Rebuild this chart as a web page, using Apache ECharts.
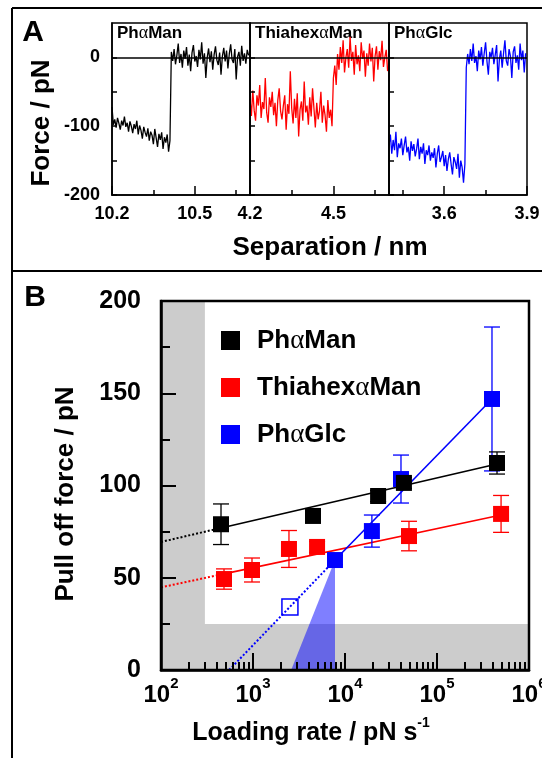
<!DOCTYPE html>
<html>
<head>
<meta charset="utf-8">
<script src="https://cdn.jsdelivr.net/npm/echarts@6/dist/echarts.min.js"></script>
<style>
html, body { margin: 0; padding: 0; background: #fff; }
#chart { width: 542px; height: 758px; }
</style>
</head>
<body>
<div id="chart"></div>
<script>
const FONT = 'Arial, "Liberation Sans", Helvetica, sans-serif';
const GREEK = '"Liberation Serif", "DejaVu Serif", serif';

// ---------- Panel A: force vs. separation traces ----------
const traceNames = ['PhαMan', 'ThiahexαMan', 'PhαGlc'];
const traceColors = ['#000000', '#ff0000', '#0000ff'];
const traceStart = [10.2, 4.2, 3.4];          // separation of first sample (nm)
const traceStep = 0.005;                      // sample spacing (nm)
const sepRanges = [[10.2, 10.7], [4.2, 4.7], [3.4, 3.9]];
const sepLabels = [[10.2, 10.5], [4.2, 4.5], [3.6, 3.9]];
const sepMinorTicks = [[10.35, 10.65], [4.35, 4.65], [3.45, 3.75]];
const forceTicks = [-200, -150, -100, -50, 0];
const forceLabels = [-200, -100, 0];

const phManTrace = [
  -72, -98, -90, -102, -88, -96, -105, -92, -99, -86,
  -101, -95, -108, -93, -100, -110, -97, -104, -92, -112,
  -99, -106, -118, -101, -109, -115, -103, -121, -108, -113,
  -126, -104, -117, -130, -111, -120, -109, -133, -116, -124,
  -112, -137, -121,
  8, -5, 12, -10, 3, 20, -8, 5, -15, 10,
  -2, 15, -12, 4, -20, 7, 18, -6, 2, -14,
  11, -3, 22, -9, 6, -30, 0, 13, -7, 9,
  -18, 4, 16, -4, -11, 7, -25, 2, 14, -6,
  10, -16, 5, 19, -3, -8, 12, -32, 1, 8,
  -12, 17, -5, 6, -9, 11, 3
];
const thiaTrace = [
  -60, -85, -48, -77, -92, -55, -70, -40, -88, -65,
  -75, -30, -80, -95, -58, -72, -50, -84, -66, -100,
  -62, -45, -78, -90, -70, -55, -105, -68, -82, -20,
  -74, -96, -60, -88, -52, -115, -76, -64, -92, -35,
  -80, -70, -98, -58, -86, -45, -74, -102, -66, -90,
  -78, -50, -95, -70, -84, -108, -62, -88, -76, -100,
  -30, -12, -40, 5, -18, 15, -8, 25, -22, 0,
  12, -15, 30, -5, 8, -25, 18, -10, 3, -20,
  22, -2, 10, -28, 6, -12, 20, -6, 14, -35,
  2, 16, -18, 9, -4, 24, -14, 0, 11, -20
];
const phGlcTrace = [
  -128, -112, -140, -120, -135, -108, -145, -125, -132, -118,
  -142, -128, -115, -138, -130, -150, -122, -136, -126, -144,
  -133, -118, -148, -130, -140, -125, -155, -135, -142, -128,
  -150, -138, -146, -132, -160, -140, -128, -152, -145, -136,
  -158, -142, -165, -148, -138, -155, -170, -145, -152, -162,
  -140, -175, -150, -160, -182, -155,
  -15, 5, -10, 12, -5, 20, -8, 2, -20, 10,
  -3, 15, -12, 6, 22, -6, -25, 8, 0, 14,
  -10, 4, 18, -35, -2, 10, -15, 6, 25, -5,
  -12, 12, 2, -30, 8, 16, -8, 3, -18, 20,
  -4, 10, -22, 6
];
const traces = [phManTrace, thiaTrace, phGlcTrace];

// ---------- Panel B: pull-off force vs. loading rate ----------
const rateLabels = [1e2, 1e3, 1e4, 1e5, 1e6];
const rateMinorTicks = [
  200, 300, 400, 500, 600, 700, 800, 900,
  2000, 3000, 4000, 5000, 6000, 7000, 8000, 9000,
  20000, 30000, 40000, 50000, 60000, 70000, 80000, 90000,
  200000, 300000, 400000, 500000, 600000, 700000, 800000, 900000
];

const phManRate  = [449, 4490, 22900, 43700, 449000];
const phManForce = [79, 83.5, 94.3, 101.4, 112.2];
const phManErr   = [11, 3, 3, 3, 6];

const thiaRate  = [484, 975, 2460, 4970, 49600, 497000];
const thiaForce = [49.3, 54.2, 65.6, 66.7, 72.6, 84.6];
const thiaErr   = [5.5, 6.5, 10, 3, 8, 10];

const phGlcRate  = [7780, 19600, 40600, 396000];
const phGlcForce = [59.6, 75.3, 103.5, 146.9];
const phGlcErr   = [2.5, 8.7, 13, 39];
const phGlcExtrapRate  = [2520];
const phGlcExtrapForce = [34.1];

// straight-line fits, as [rate, force] end points
const phManFitDotted = [[100, 69.4], [449, 77.0]];
const phManFitSolid  = [[449, 77.0], [449000, 111.7]];
const thiaFitDotted  = [[100, 44.8], [484, 52.1]];
const thiaFitSolid   = [[484, 52.1], [497000, 84.0]];
const phGlcFitDotted = [[550, 0], [7780, 59.6]];
const phGlcFitSolid  = [[7780, 59.6], [396000, 146.9]];

// shaded regions: [rateFrom, rateTo, forceFrom, forceTo]
const grayBands = [[100, 300, 0, 200], [100, 1e6, 0, 25]];
// rate window below the first PhαGlc point
const phGlcWedge = [2600, 0, 7780, 59.6, 7780, 0];

// ---------- helpers ----------
function pairs(xs, ys) { return xs.map((x, i) => [x, ys[i]]); }
function triples(xs, ys, es) { return xs.map((x, i) => [x, ys[i], es[i]]); }
function greekRich(name) {
  const p = name.split('α');
  return '{t|' + p[0] + '}{g|α}{t|' + p[1] + '}';
}
function errorBars(color) {
  return function (params, api) {
    const x = api.value(0), y = api.value(1), e = api.value(2);
    const top = api.coord([x, y + e]);
    const bot = api.coord([x, y - e]);
    const w = 8;
    const style = { stroke: color, lineWidth: 1.3, fill: null };
    return {
      type: 'group',
      children: [
        { type: 'line', shape: { x1: top[0], y1: top[1], x2: bot[0], y2: bot[1] }, style: style },
        { type: 'line', shape: { x1: top[0] - w, y1: top[1], x2: top[0] + w, y2: top[1] }, style: style },
        { type: 'line', shape: { x1: bot[0] - w, y1: bot[1], x2: bot[0] + w, y2: bot[1] }, style: style }
      ]
    };
  };
}

// ---------- layout ----------
const gridsA = [
  { left: 112, top: 23, width: 138, height: 172 },
  { left: 250, top: 23, width: 139, height: 172 },
  { left: 389, top: 23, width: 138, height: 172 }
];
const gridB = { left: 161, top: 301, width: 368, height: 369 };

const grids = [];
const xAxes = [];
const yAxes = [];
const series = [];

gridsA.forEach((g, k) => {
  grids.push(Object.assign({
    show: true, borderColor: '#000', borderWidth: 1.5, backgroundColor: 'transparent',
    containLabel: false, outerBoundsMode: 'none', z: 5
  }, g));
  // main separation axis: labels + major ticks
  xAxes.push({
    type: 'value', gridIndex: k, position: 'bottom', min: sepRanges[k][0], max: sepRanges[k][1], z: 6,
    axisLine: { onZero: false, lineStyle: { color: '#000', width: 1.5 } },
    axisTick: { inside: true, length: 9, customValues: sepLabels[k], lineStyle: { color: '#000', width: 1.5 } },
    axisLabel: { customValues: sepLabels[k], margin: 10, color: '#000', fontFamily: FONT, fontWeight: 'bold', fontSize: 18 },
    splitLine: { show: false }
  });
  yAxes.push({
    type: 'value', gridIndex: k, min: -200, max: 50, z: 6,
    axisLine: { lineStyle: { color: '#000', width: 1.5 } },
    axisTick: { inside: true, length: 5, customValues: forceTicks, lineStyle: { color: '#000', width: 1.5 } },
    axisLabel: { show: k === 0, customValues: forceLabels, margin: 12, color: '#000', fontFamily: FONT, fontWeight: 'bold', fontSize: 18 },
    splitLine: { show: false }
  });
  series.push({
    type: 'line', xAxisIndex: k, yAxisIndex: k,
    data: traces[k].map((v, i) => [traceStart[k] + i * traceStep, v]),
    symbol: 'none', silent: true, z: 3,
    itemStyle: { color: traceColors[k] },
    lineStyle: { color: traceColors[k], width: 1.3 },
    markLine: {
      silent: true, symbol: ['none', 'none'], label: { show: false },
      lineStyle: { color: '#000', width: 1.5, type: 'solid' },
      data: [{ yAxis: 0 }]
    }
  });
});
// minor separation ticks
gridsA.forEach((g, k) => {
  xAxes.push({
    type: 'value', gridIndex: k, position: 'bottom', min: sepRanges[k][0], max: sepRanges[k][1], z: 6,
    axisLine: { show: false, onZero: false },
    axisTick: { inside: true, length: 5, customValues: sepMinorTicks[k], lineStyle: { color: '#000', width: 1.5 } },
    axisLabel: { show: false },
    splitLine: { show: false }
  });
});

// Panel B grid and axes
grids.push(Object.assign({
  show: true, borderColor: '#000', borderWidth: 2.5, backgroundColor: 'transparent',
  containLabel: false, outerBoundsMode: 'none', z: 5
}, gridB));
const XB = xAxes.length;
xAxes.push({
  type: 'log', logBase: 10, gridIndex: 3, position: 'bottom', min: 1e2, max: 1e6, z: 6,
  axisLine: { onZero: false, lineStyle: { color: '#000', width: 2.5 } },
  axisTick: { inside: true, length: 17, customValues: rateLabels, lineStyle: { color: '#000', width: 2 } },
  axisLabel: {
    customValues: rateLabels, margin: 6,
    formatter: v => '{b|10}{s|' + Math.round(Math.log10(v)) + '}',
    rich: {
      b: { fontFamily: FONT, fontWeight: 'bold', fontSize: 24, color: '#000', lineHeight: 38 },
      s: { fontFamily: FONT, fontWeight: 'bold', fontSize: 15, color: '#000', verticalAlign: 'top', lineHeight: 18 }
    }
  },
  splitLine: { show: false }
});
xAxes.push({
  type: 'log', logBase: 10, gridIndex: 3, position: 'bottom', min: 1e2, max: 1e6, z: 6,
  axisLine: { show: false, onZero: false },
  axisTick: { inside: true, length: 8, customValues: rateMinorTicks, lineStyle: { color: '#000', width: 2 } },
  axisLabel: { show: false },
  splitLine: { show: false }
});
const YB = yAxes.length;
yAxes.push({
  type: 'value', gridIndex: 3, min: 0, max: 200, interval: 50, z: 6,
  axisLine: { lineStyle: { color: '#000', width: 2.5 } },
  axisTick: { inside: true, length: 15, lineStyle: { color: '#000', width: 2 } },
  minorTick: { show: true, splitNumber: 2, length: 9, lineStyle: { color: '#000', width: 2 } },
  axisLabel: { margin: 20, color: '#000', fontFamily: FONT, fontWeight: 'bold', fontSize: 25 },
  splitLine: { show: false }
});

const onB = { xAxisIndex: XB, yAxisIndex: YB };

series.push(Object.assign({
  type: 'custom', silent: true, z: 1,
  data: grayBands,
  renderItem: function (params, api) {
    const p0 = api.coord([api.value(0), api.value(3)]);
    const p1 = api.coord([api.value(1), api.value(2)]);
    return { type: 'rect', shape: { x: p0[0], y: p0[1], width: p1[0] - p0[0], height: p1[1] - p0[1] },
             style: { fill: '#cccccc' } };
  }
}, onB));

series.push(Object.assign({
  type: 'custom', silent: true, z: 2,
  data: [phGlcWedge],
  renderItem: function (params, api) {
    const pts = [];
    for (let i = 0; i < 6; i += 2) pts.push(api.coord([api.value(i), api.value(i + 1)]));
    return { type: 'polygon', shape: { points: pts }, style: { fill: 'rgba(0,0,255,0.5)' } };
  }
}, onB));

function fitLine(data, color, dotted) {
  return Object.assign({
    type: 'line', data: data, symbol: 'none', silent: true, z: 3,
    itemStyle: { color: color },
    lineStyle: { color: color, width: dotted ? 2 : 1.6, type: dotted ? 'dotted' : 'solid' }
  }, onB);
}
series.push(fitLine(phManFitDotted, '#000000', true));
series.push(fitLine(phManFitSolid, '#000000', false));
series.push(fitLine(thiaFitDotted, '#ff0000', true));
series.push(fitLine(thiaFitSolid, '#ff0000', false));
series.push(fitLine(phGlcFitDotted, '#0000ff', true));
series.push(fitLine(phGlcFitSolid, '#0000ff', false));

[[thiaRate, thiaForce, thiaErr, '#ff0000'],
 [phGlcRate, phGlcForce, phGlcErr, '#0000ff'],
 [phManRate, phManForce, phManErr, '#000000']].forEach(d => {
  series.push(Object.assign({
    type: 'custom', silent: true, z: 4,
    data: triples(d[0], d[1], d[2]),
    renderItem: errorBars(d[3])
  }, onB));
});

series.push(Object.assign({
  type: 'scatter', silent: true, z: 5, symbol: 'rect', symbolSize: 16,
  data: pairs(phGlcExtrapRate, phGlcExtrapForce),
  itemStyle: { color: 'rgba(255,255,255,0)', borderColor: '#0000ff', borderWidth: 1.5, opacity: 1 }
}, onB));
series.push(Object.assign({
  type: 'scatter', name: 'ThiahexαMan', silent: true, z: 5, symbol: 'rect', symbolSize: 16,
  data: pairs(thiaRate, thiaForce), itemStyle: { color: '#ff0000', opacity: 1 }
}, onB));
series.push(Object.assign({
  type: 'scatter', name: 'PhαGlc', silent: true, z: 5, symbol: 'rect', symbolSize: 16,
  data: pairs(phGlcRate, phGlcForce), itemStyle: { color: '#0000ff', opacity: 1 }
}, onB));
series.push(Object.assign({
  type: 'scatter', name: 'PhαMan', silent: true, z: 6, symbol: 'rect', symbolSize: 16,
  data: pairs(phManRate, phManForce), itemStyle: { color: '#000000', opacity: 1 }
}, onB));

// ---------- text and frame ----------
const titleRich = size => ({
  t: { fontFamily: FONT, fontWeight: 'bold', fontSize: size, fill: '#000' },
  g: { fontFamily: GREEK, fontSize: size + 1, fill: '#000' }
});
const graphics = [
  { type: 'line', shape: { x1: 12, y1: 8, x2: 542, y2: 8 }, style: { stroke: '#000', lineWidth: 2 } },
  { type: 'line', shape: { x1: 12, y1: 8, x2: 12, y2: 758 }, style: { stroke: '#000', lineWidth: 2 } },
  { type: 'line', shape: { x1: 12, y1: 271, x2: 542, y2: 271 }, style: { stroke: '#000', lineWidth: 2 } },
  { type: 'text', x: 33, y: 33, style: { text: 'A', font: 'bold 30px ' + FONT, fill: '#000', align: 'center', verticalAlign: 'middle' } },
  { type: 'text', x: 35, y: 298, style: { text: 'B', font: 'bold 30px ' + FONT, fill: '#000', align: 'center', verticalAlign: 'middle' } },
  { type: 'text', x: 42, y: 123, rotation: Math.PI / 2,
    style: { text: 'Force / pN', font: 'bold 26px ' + FONT, fill: '#000', align: 'center', verticalAlign: 'middle' } },
  { type: 'text', x: 330, y: 248,
    style: { text: 'Separation / nm', font: 'bold 26px ' + FONT, fill: '#000', align: 'center', verticalAlign: 'middle' } },
  { type: 'text', x: 66, y: 494, rotation: Math.PI / 2,
    style: { text: 'Pull off force / pN', font: 'bold 26px ' + FONT, fill: '#000', align: 'center', verticalAlign: 'middle' } },
  { type: 'text', x: 311, y: 733,
    style: { text: '{t|Loading rate / pN s}{s|-1}', align: 'center', verticalAlign: 'middle',
      rich: {
        t: { fontFamily: FONT, fontWeight: 'bold', fontSize: 25, fill: '#000', lineHeight: 34 },
        s: { fontFamily: FONT, fontWeight: 'bold', fontSize: 14, fill: '#000', verticalAlign: 'top', lineHeight: 16 }
      } } }
];
gridsA.forEach((g, k) => {
  graphics.push({ type: 'text', x: g.left + 5, y: 33,
    style: { text: greekRich(traceNames[k]), rich: titleRich(17), verticalAlign: 'middle' } });
});

const chart = echarts.init(document.getElementById('chart'), null, { renderer: 'canvas' });
chart.setOption({
  animation: false,
  backgroundColor: '#fff',
  grid: grids,
  xAxis: xAxes,
  yAxis: yAxes,
  legend: {
    data: ['PhαMan', 'ThiahexαMan', 'PhαGlc'],
    orient: 'vertical', left: 216, top: 322,
    icon: 'rect', itemWidth: 19, itemHeight: 19, itemGap: 20,
    selectedMode: false,
    formatter: greekRich,
    textStyle: {
      padding: [0, 0, 0, 12],
      rich: {
        t: { fontFamily: FONT, fontWeight: 'bold', fontSize: 26, color: '#000', lineHeight: 25 },
        g: { fontFamily: GREEK, fontSize: 27, color: '#000', lineHeight: 25 }
      }
    }
  },
  graphic: graphics,
  series: series
});
</script>
</body>
</html>
